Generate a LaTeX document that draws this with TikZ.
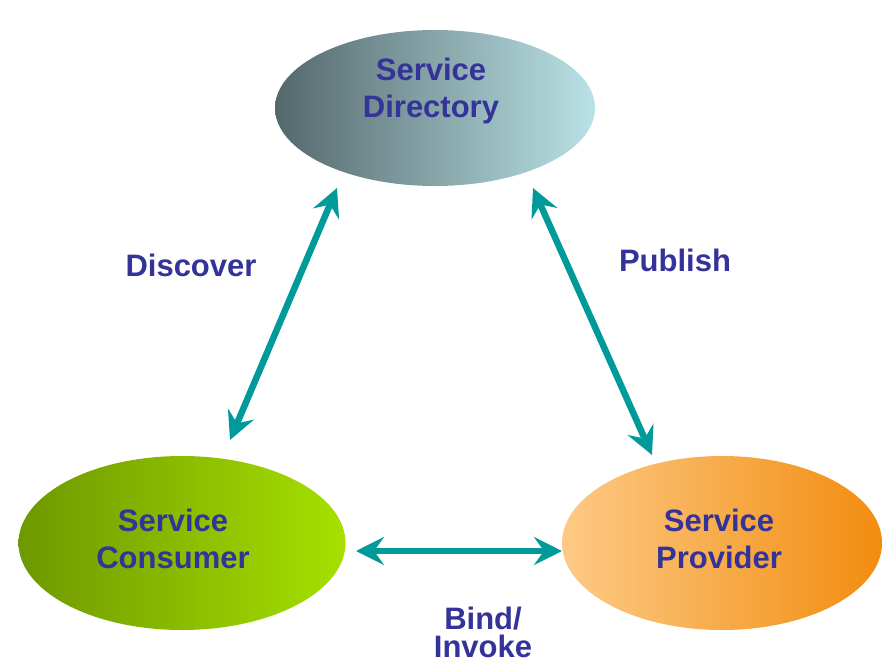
\documentclass[tikz,border=0pt]{standalone}
\usepackage{fontspec}
\setmainfont{Liberation Sans}
\usetikzlibrary{shapes.geometric,arrows.meta}
\definecolor{txtblue}{HTML}{333399}
\definecolor{teal}{HTML}{009A9A}
\tikzset{
  blob/.style={ellipse, draw=none, inner sep=0pt, shading=axis, shading angle=90},
  lbl/.style={text=txtblue, font=\fontsize{31}{37}\selectfont\bfseries, align=center, inner sep=0pt},
  conn/.style={draw=teal, line width=6.5pt, {Stealth[length=28pt,width=28pt,inset=10pt]}-{Stealth[length=28pt,width=28pt,inset=10pt]}}
}
\begin{document}
\begin{tikzpicture}[x=1pt,y=-1pt]
\useasboundingbox (0,0) rectangle (884,662);
\node[blob, minimum width=320pt, minimum height=156pt, left color={rgb,255:red,84;green,104;blue,108}, right color={rgb,255:red,186;green,226;blue,230}] (dir) at (435,108) {};
\node[blob, minimum width=327pt, minimum height=174pt, left color={rgb,255:red,110;green,152;blue,0}, right color={rgb,255:red,166;green,224;blue,0}] (con) at (182,543) {};
\node[blob, minimum width=320pt, minimum height=174pt, left color={rgb,255:red,253;green,202;blue,134}, right color={rgb,255:red,242;green,140;blue,14}] (pro) at (722,543) {};
\node[lbl] (dirtext) at (431,91) {Service\\Directory};
\node[lbl] (context) at (173,539) {Service\\Consumer};
\node[lbl] (protext) at (719,539) {Service\\Provider};
\node[lbl] (disc) at (191,265) {Discover};
\node[lbl] (pub) at (675,260) {Publish};
\node[lbl, font=\fontsize{31}{28}\selectfont\bfseries, anchor=north] (bind) at (483,607) {Bind/\\Invoke};
\coordinate (c1) at (230,440);
\coordinate (d1) at (337,188);
\coordinate (d2) at (533,188);
\coordinate (p2) at (652,455);
\coordinate (c3) at (356,551);
\coordinate (p3) at (562,551);
\draw[conn] (c1) -- (d1);
\draw[conn] (d2) -- (p2);
\draw[conn] (c3) -- (p3);
\end{tikzpicture}
\end{document}
